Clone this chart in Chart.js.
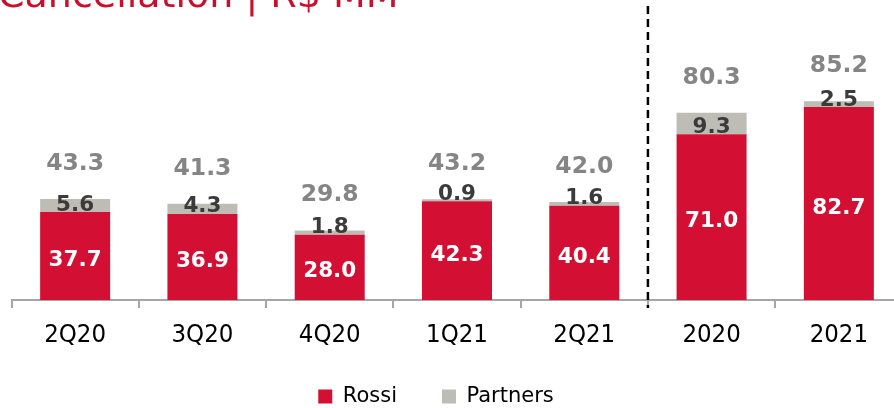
<!DOCTYPE html>
<html lang="en">
<head>
<meta charset="UTF-8">
<title>Cancellation | R$ MM</title>
<script src="https://cdn.jsdelivr.net/npm/chart.js"></script>
<style>
    html, body { margin: 0; padding: 0; background: #fff; overflow: hidden; width: 894px; height: 408px; }
    /* canvas starts a bit left of the page (and runs a bit below it) so the legend sits where the original has it */
    #wrap { position: absolute; left: -40px; top: 0; width: 943px; height: 417px; }
</style>
</head>
<body>
<div id="wrap"><canvas id="chart"></canvas></div>
<script>
    const categories = ['2Q20', '3Q20', '4Q20', '1Q21', '2Q21', '2020', '2021'];
    const rossi = [37.7, 36.9, 28.0, 42.3, 40.4, 71.0, 82.7];
    const partners = [5.6, 4.3, 1.8, 0.9, 1.6, 9.3, 2.5];
    const totals = [43.3, 41.3, 29.8, 43.2, 42.0, 80.3, 85.2];
    const titleText = 'Cancellation | R$ MM';

    const RED = '#d31034';
    const GREY = '#bdbdb5';

    // title is cut off by the top edge in the original
    const titlePlugin = {
        id: 'cutTitle',
        beforeDraw(chart) {
            // legend keeps its wide item spacing but is drawn a little higher, right under the tick labels
            if (chart.legend) chart.legend.top = chart.scales.x.bottom - 25;
        },
        afterDraw(chart) {
            const ctx = chart.ctx;
            ctx.save();
            ctx.font = '38px "DejaVu Sans"';
            ctx.fillStyle = '#c8102e';
            ctx.textBaseline = 'alphabetic';
            ctx.fillText(titleText, 38, 7);
            ctx.restore();
        }
    };

    const labelPlugin = {
        id: 'barLabels',
        afterDatasetsDraw(chart) {
            const ctx = chart.ctx;
            const redBars = chart.getDatasetMeta(0).data;
            const greyBars = chart.getDatasetMeta(1).data;
            ctx.save();
            ctx.textAlign = 'center';
            ctx.textBaseline = 'alphabetic';
            redBars.forEach((bar, i) => {
                const g = greyBars[i];
                ctx.font = 'bold 21.5px "DejaVu Sans"';
                ctx.fillStyle = '#ffffff';
                ctx.fillText(rossi[i].toFixed(1), bar.x, (bar.y + bar.base) / 2 + 10);
                ctx.fillStyle = '#3b3b3b';
                ctx.fillText(partners[i].toFixed(1), g.x, g.base - 1.5);
                ctx.font = 'bold 23.5px "DejaVu Sans"';
                ctx.fillStyle = '#858585';
                ctx.fillText(totals[i].toFixed(1), g.x, g.y - 29);
            });

            // dashed divider between quarters and years
            const x = chart.scales.x;
            const xd = (x.getPixelForValue(4) + x.getPixelForValue(5)) / 2;
            ctx.strokeStyle = '#000';
            ctx.lineWidth = 2.5;
            ctx.setLineDash([8, 5]);
            ctx.beginPath();
            ctx.moveTo(xd, 6);
            ctx.lineTo(xd, chart.chartArea.bottom + 8);
            ctx.stroke();
            ctx.restore();
        }
    };

    new Chart(document.getElementById('chart'), {
        type: 'bar',
        data: {
            labels: categories,
            datasets: [
                { label: 'Rossi', data: rossi, backgroundColor: RED, stack: 's' },
                { label: 'Partners', data: partners, backgroundColor: GREY, stack: 's' }
            ]
        },
        options: {
            responsive: true,
            maintainAspectRatio: false,
            animation: false,
            layout: { padding: { left: 9.5, right: 0.5, top: 20, bottom: 0 } },
            datasets: { bar: { categoryPercentage: 1, barPercentage: 0.55 } },
            plugins: {
                legend: {
                    position: 'bottom',
                    maxHeight: 51,
                    labels: {
                        boxWidth: 14,
                        boxHeight: 14,
                        padding: 45,
                        color: '#000',
                        font: { family: 'DejaVu Sans', size: 21 }
                    }
                },
                tooltip: { enabled: false },
                title: { display: false }
            },
            scales: {
                x: {
                    stacked: true,
                    afterFit(scale) { scale.height = 66; },
                    grid: {
                        display: true,
                        drawOnChartArea: false,
                        drawTicks: true,
                        tickLength: 8,
                        color: '#a6a6a6',
                        lineWidth: 2,
                        offset: true
                    },
                    border: { color: '#a6a6a6', width: 2 },
                    ticks: {
                        color: '#000',
                        padding: 12,
                        font: { family: '"DejaVu Sans Condensed", "DejaVu Sans"', size: 25.5 }
                    }
                },
                y: {
                    stacked: true,
                    min: 0,
                    max: 120,
                    afterFit(scale) { scale.width = 42; },
                    ticks: { display: false },
                    grid: { display: false },
                    border: { display: false }
                }
            }
        },
        plugins: [labelPlugin, titlePlugin]
    });
</script>
</body>
</html>
